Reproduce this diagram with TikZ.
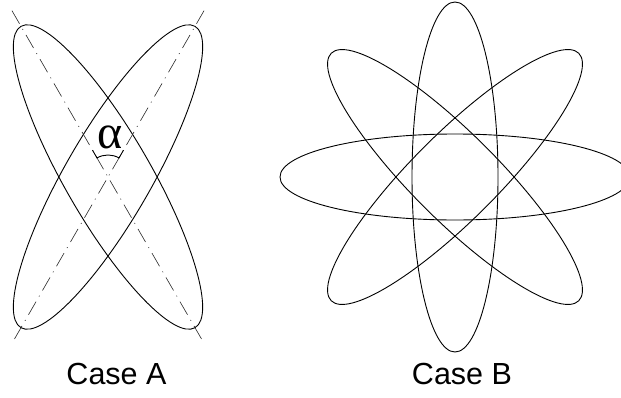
\documentclass[tikz,border=0pt]{standalone}
\usepackage{fontspec}
\usetikzlibrary{calc}
\setmainfont{Liberation Sans}
\newfontfamily\greekfont{Liberation Serif}
\begin{document}
\begin{tikzpicture}[x=1bp,y=1bp,
  orbit/.style={draw=black, line width=0.9bp},
  axisline/.style={draw=black!85, line width=0.6bp, dash pattern=on 15bp off 6bp on 1bp off 6bp},
  caption/.style={font=\fontsize{30.5bp}{36bp}\selectfont, anchor=base, inner sep=0pt},
  anglemark/.style={draw=black, line width=0.9bp}]
\useasboundingbox (0,0) rectangle (621,397);
% Case A
\coordinate (A) at (108,220);
\draw[orbit, rotate around={30:(A)}] (A) ellipse [x radius=43, y radius=174];
\draw[orbit, rotate around={-30:(A)}] (A) ellipse [x radius=43, y radius=174];
\coordinate (A1) at ($(A)+(120:192)$);
\coordinate (A2) at ($(A)+(-60:192)$);
\coordinate (A3) at ($(A)+(60:192)$);
\coordinate (A4) at ($(A)+(-120:192)$);
\draw[axisline] (A1) -- (A2);
\draw[axisline] (A3) -- (A4);
\draw[anglemark] ($(A)+(120:31)$) -- ($(A)+(120:22)$) arc[start angle=120, end angle=60, radius=22] -- ($(A)+(60:31)$);
\node[font=\greekfont\fontsize{48bp}{50bp}\selectfont, inner sep=0pt] (alpha) at (110.5,260) {α};
\node[caption] (capA) at (116.5,13) {Case A};
% Case B
\coordinate (B) at (455,220);
\foreach \r in {0,45,90,135}
  \draw[orbit, rotate around={\r:(B)}] (B) ellipse [x radius=43, y radius=175];
\node[caption] (capB) at (462,13) {Case B};
\end{tikzpicture}
\end{document}
